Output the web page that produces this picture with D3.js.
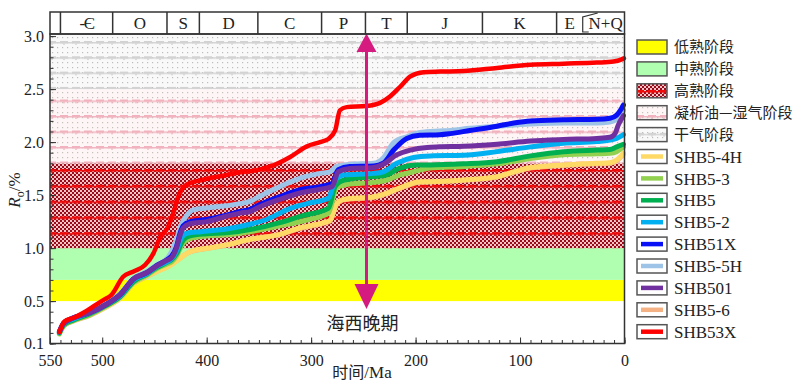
<!DOCTYPE html>
<html>
<head>
<meta charset="utf-8">
<script src="https://cdn.jsdelivr.net/npm/d3@7"></script>
<style>
  body { margin: 0; background: #fff; }
  text { fill: #222; }
</style>
</head>
<body>
<svg id="chart" width="802" height="384"></svg>
<script>
// Geological time strip (Ma)
const periodLabels = ["", "-Є", "O", "S", "D", "C", "P", "T", "J", "K", "E", "N+Q"];
const periodOld   = [550, 540, 490, 438, 407, 351, 290, 248, 208, 136, 65, 40];
const periodYoung = [540, 490, 438, 407, 351, 290, 248, 208, 136, 65, 40, 0];

// Maturity stages (Ro, %)
const stageNames = ["低熟阶段", "中熟阶段", "高熟阶段", "凝析油—湿气阶段", "干气阶段"];
const stageLow   = [0.5, 0.7, 1.0, 1.8, 2.5];
const stageHigh  = [0.7, 1.0, 1.8, 2.5, 3.03];

// Axis ticks
const xLabelTicks = [550, 500, 400, 300, 200, 100, 0];
const yLabelTicks = [0.1, 0.5, 1.0, 1.5, 2.0, 2.5, 3.0];

// Thermal evolution of each well: [age Ma, Ro %]
const shb5_4h = [[541,0.21],[537,0.275],[528,0.315],[512,0.37],[496,0.447],[483,0.526],[470,0.668],[457,0.737],[448,0.778],[438,0.82],[432,0.856],[425.5,0.903],[419,0.951],[413,0.976],[400,0.998],[381,1.03],[358.5,1.083],[330,1.13],[311,1.19],[288,1.24],[282,1.26],[275.5,1.42],[269,1.46],[240,1.485],[228,1.517],[212,1.58],[196,1.627],[186,1.627],[154,1.642],[122,1.674],[106,1.72],[90,1.76],[58.5,1.784],[26.5,1.80],[14,1.806],[7.5,1.831],[1,1.894]];
const shb5_3 = [[541,0.19],[537,0.265],[528,0.315],[512,0.37],[496,0.455],[483,0.535],[470,0.675],[457,0.745],[448,0.805],[438,0.85],[433.5,0.87],[429,0.925],[422.5,1.045],[416,1.09],[400,1.115],[381,1.125],[358.5,1.155],[330,1.21],[304,1.265],[283.5,1.33],[275.5,1.57],[266,1.60],[240,1.62],[228,1.64],[215,1.69],[202,1.72],[186,1.755],[154,1.77],[122,1.795],[90,1.845],[58.5,1.88],[26.5,1.89],[14,1.895],[7.5,1.91],[1,1.955]];
const shb5 = [[541,0.20],[537,0.275],[528,0.32],[512,0.38],[496,0.46],[483,0.54],[470,0.685],[457,0.755],[448,0.815],[438,0.865],[433.5,0.89],[429,0.945],[422.5,1.075],[416,1.115],[400,1.135],[381,1.145],[358.5,1.175],[330,1.24],[310.5,1.30],[283.5,1.375],[277,1.58],[269,1.64],[240,1.675],[228,1.69],[215,1.755],[199,1.785],[186,1.785],[154,1.795],[122,1.815],[90,1.87],[58.5,1.91],[26.5,1.925],[14,1.93],[7.5,1.955],[1,1.98]];
const shb5_2 = [[541,0.21],[537,0.29],[528,0.33],[512,0.39],[496,0.47],[483,0.55],[470,0.70],[457,0.76],[448,0.825],[438,0.87],[433.5,0.90],[429,0.97],[424,1.10],[419,1.14],[406,1.155],[381,1.18],[358.5,1.225],[344,1.265],[320,1.375],[304,1.42],[283.5,1.47],[277,1.64],[269,1.69],[240,1.705],[231,1.72],[218,1.80],[202,1.855],[186,1.87],[154,1.875],[122,1.91],[90,1.955],[58.5,1.99],[26.5,2.005],[14,2.02],[7.5,2.035],[1,2.07]];
const shb51x = [[541,0.21],[537,0.29],[528,0.34],[512,0.39],[496,0.47],[483,0.56],[470,0.71],[457,0.77],[448,0.835],[438,0.89],[433.5,0.925],[429,1.01],[425.5,1.14],[422.5,1.21],[416,1.25],[400,1.27],[381,1.31],[368,1.345],[358.5,1.365],[349,1.41],[330,1.485],[310.5,1.55],[291.5,1.58],[280,1.61],[274,1.74],[263,1.77],[240,1.775],[231,1.80],[221,1.925],[208.5,2.035],[196,2.065],[177,2.07],[167,2.08],[148,2.11],[122,2.15],[106,2.18],[90,2.20],[58.5,2.21],[26.5,2.215],[14,2.225],[7.5,2.255],[2.7,2.32],[1,2.35]];
const shb5_5h = [[541,0.21],[537,0.29],[528,0.34],[512,0.39],[496,0.47],[483,0.57],[470,0.715],[457,0.78],[448,0.84],[438,0.90],[433.5,0.97],[429,1.08],[424,1.23],[419,1.31],[413,1.36],[394,1.385],[368,1.42],[358.5,1.44],[349,1.49],[330,1.58],[310.5,1.66],[291.5,1.705],[282,1.72],[275.5,1.77],[263,1.79],[240,1.80],[231,1.85],[221,1.995],[208.5,2.05],[196,2.09],[177,2.105],[167,2.11],[148,2.13],[122,2.15],[90,2.17],[58.5,2.18],[26.5,2.18],[14,2.19],[7.5,2.215],[2.7,2.27],[1,2.30]];
const shb501 = [[541,0.21],[537,0.29],[528,0.34],[512,0.39],[496,0.47],[483,0.56],[470,0.71],[457,0.77],[448,0.83],[438,0.885],[433.5,0.91],[429,1.0],[425.5,1.12],[422.5,1.19],[416,1.23],[400,1.25],[381,1.30],[368,1.33],[358.5,1.345],[349,1.39],[330,1.46],[310.5,1.52],[291.5,1.555],[280,1.58],[274,1.72],[263,1.75],[240,1.76],[231,1.79],[218,1.88],[205,1.925],[189,1.95],[177,1.955],[154,1.96],[122,1.98],[90,2.01],[58.5,2.025],[26.5,2.035],[14,2.045],[9,2.08],[6,2.16],[1,2.25]];
const shb5_6 = [[541,0.20],[537,0.27],[528,0.31],[512,0.365],[496,0.445],[483,0.525],[470,0.665],[457,0.735],[448,0.78],[438,0.825],[432,0.86],[425.5,0.905],[419,0.95],[413,0.975],[400,0.995],[381,1.03],[358.5,1.08],[330,1.13],[311,1.185],[288,1.235],[282,1.255],[275.5,1.415],[269,1.455],[240,1.48],[228,1.515],[212,1.575],[196,1.62],[186,1.625],[154,1.64],[122,1.67],[106,1.715],[90,1.755],[58.5,1.78],[26.5,1.795],[14,1.80],[7.5,1.825],[1,1.89]];
const shb53x = [[541,0.21],[536,0.31],[528,0.34],[518,0.39],[508.5,0.45],[499,0.51],[491,0.56],[480,0.73],[470,0.78],[459,0.84],[451,0.95],[445,1.09],[437,1.20],[432,1.33],[427,1.49],[419,1.60],[406,1.64],[381,1.69],[368,1.715],[358,1.725],[339,1.77],[320,1.86],[304,1.96],[291.5,2.00],[283.5,2.03],[277,2.11],[272.5,2.30],[266,2.33],[247,2.34],[234,2.37],[224.5,2.43],[215,2.52],[205,2.62],[192.5,2.66],[176.5,2.665],[154,2.67],[122,2.70],[90,2.73],[58.5,2.74],[26.5,2.75],[10.5,2.76],[2.7,2.78],[0.5,2.79]];

const wellNames  = ["SHB5-4H", "SHB5-3", "SHB5", "SHB5-2", "SHB51X", "SHB5-5H", "SHB501", "SHB5-6", "SHB53X"];
const wellValues = [shb5_4h, shb5_3, shb5, shb5_2, shb51x, shb5_5h, shb501, shb5_6, shb53x];
const wellColors = ["#ffd966", "#92d050", "#00b050", "#00b0f0", "#0a10f5", "#9dc3e6", "#7030a0", "#f4b183", "#ff0000"];
const drawOrder  = ["SHB5-6", "SHB5-4H", "SHB5-3", "SHB5", "SHB5-2", "SHB5-5H", "SHB51X", "SHB501", "SHB53X"];

// Late Hercynian event
const eventAge = 247;
const eventLabel = "海西晚期";

const svg = d3.select("#chart");
const serif = "'Liberation Serif', 'Times New Roman', 'Noto Sans CJK SC', serif";
const cjk = "'Noto Sans CJK SC', 'Liberation Serif', sans-serif";

const plotL = 50, plotR = 624.5, plotB = 343.5, plotT = 34, stripT = 12;
const x = d3.scaleLinear().domain([550, 0]).range([plotL, plotR]);
const y = d3.scaleLinear().domain([0.1, 3.0]).range([plotB, 36.1]);

// ---------- fill patterns ----------
const defs = svg.append("defs");
function dotPattern(id, bg, dot) {
  const p = defs.append("pattern").attr("id", id).attr("patternUnits", "userSpaceOnUse")
    .attr("width", 5).attr("height", 5);
  p.append("rect").attr("width", 5).attr("height", 5).attr("fill", bg);
  p.append("rect").attr("x", 2).attr("y", 2).attr("width", 1.2).attr("height", 1.2).attr("fill", dot);
}
function stripePattern(id, color, y0, h) {
  const p = defs.append("pattern").attr("id", id).attr("patternUnits", "userSpaceOnUse")
    .attr("x", 0).attr("y", y0).attr("width", 12).attr("height", h);
  p.append("rect").attr("x", 0).attr("y", 0).attr("width", 8).attr("height", 2.6).attr("fill", color);
  p.append("rect").attr("x", 8).attr("y", 1).attr("width", 4).attr("height", 1.4).attr("fill", color);
  p.append("rect").attr("x", 3).attr("y", 2.6).attr("width", 2).attr("height", 1).attr("fill", color);
}
dotPattern("dryDots", "#f9f9f9", "#bdbdbd");
dotPattern("wetDots", "#fdf5f6", "#c2c2b8");
stripePattern("dryStripe", "#d2d2d2", 41, 15.3);
stripePattern("wetStripe", "#f1b2be", 99.5, 15.5);
stripePattern("highStripe", "#f00a0a", 169, 15.8);
{
  const p = defs.append("pattern").attr("id", "checker").attr("patternUnits", "userSpaceOnUse")
    .attr("width", 4).attr("height", 4);
  p.append("rect").attr("width", 4).attr("height", 4).attr("fill", "#efc4c6");
  p.append("rect").attr("width", 2).attr("height", 2).attr("fill", "#9c0a1a");
  p.append("rect").attr("x", 2).attr("y", 2).attr("width", 2).attr("height", 2).attr("fill", "#9c0a1a");
}
const stageFills = [
  ["#ffff00"],
  ["#b0ffb0"],
  ["url(#checker)", "url(#highStripe)"],
  ["url(#wetDots)", "url(#wetStripe)"],
  ["url(#dryDots)", "url(#dryStripe)"]
];

// ---------- stage bands ----------
const bands = svg.append("g");
stageNames.forEach((name, i) => {
  const y1 = Math.max(y(stageHigh[i]), plotT), y0 = y(stageLow[i]);
  stageFills[i].forEach(f => {
    bands.append("rect").attr("x", plotL).attr("y", y1)
      .attr("width", plotR - plotL).attr("height", y0 - y1).attr("fill", f);
  });
});

// ---------- axes ----------
const axisColor = "#333";
function styleAxis(g) {
  g.select(".domain").remove();
  g.selectAll("line").attr("stroke", axisColor).attr("stroke-width", 1);
  g.selectAll("text").attr("font-family", serif).attr("font-size", 16).attr("fill", "#222");
}
svg.append("g").attr("transform", `translate(0,${plotB})`)
  .call(d3.axisBottom(x).tickValues(d3.range(0, 551, 10)).tickSize(-3.5).tickFormat(""))
  .call(styleAxis);
svg.append("g").attr("transform", `translate(0,${plotB})`)
  .call(d3.axisBottom(x).tickValues(xLabelTicks).tickSize(-6).tickPadding(11).tickFormat(d3.format("d")))
  .call(styleAxis);
svg.append("g").attr("transform", `translate(${plotL},0)`)
  .call(d3.axisLeft(y).tickValues(d3.range(1, 31).map(v => v / 10)).tickSize(-3.5).tickFormat(""))
  .call(styleAxis);
svg.append("g").attr("transform", `translate(${plotL},0)`)
  .call(d3.axisLeft(y).tickValues(yLabelTicks).tickSize(-6).tickPadding(6).tickFormat(d3.format(".1f")))
  .call(styleAxis);

// axis titles
svg.append("text").attr("x", 362).attr("y", 378).attr("text-anchor", "middle")
  .attr("font-family", cjk).attr("font-size", 16)
  .html("时间<tspan font-family=\"'Liberation Serif', serif\" font-size=\"17\">/Ma</tspan>");
const yt = svg.append("text").attr("transform", "translate(20,190) rotate(-90)")
  .attr("text-anchor", "middle").attr("font-family", serif).attr("font-size", 17);
yt.append("tspan").attr("font-style", "italic").text("R");
yt.append("tspan").attr("font-size", 12).attr("dy", 4).text("o");
yt.append("tspan").attr("dy", -4).text("/%");

// ---------- well curves ----------
const line = d3.line().x(d => x(d[0])).y(d => y(d[1])).curve(d3.curveMonotoneX);
const curves = svg.append("g").attr("fill", "none").attr("stroke-linejoin", "round").attr("stroke-linecap", "round");
drawOrder.forEach(n => {
  const i = wellNames.indexOf(n);
  curves.append("path").datum(wellValues[i]).attr("d", line)
    .attr("stroke", wellColors[i]).attr("stroke-width", n === "SHB53X" ? 4.5 : 5);
});

// ---------- event arrow ----------
const ax = x(eventAge), arrowColor = "#d61b80";
svg.append("line").attr("x1", ax).attr("x2", ax).attr("y1", 50).attr("y2", 288)
  .attr("stroke", arrowColor).attr("stroke-width", 3);
svg.append("path").attr("d", `M${ax},33.5 L${ax - 10},52 L${ax + 10},52 Z`).attr("fill", arrowColor);
svg.append("path").attr("d", `M${ax},309 L${ax - 12},284 L${ax + 12},284 Z`).attr("fill", arrowColor);
svg.append("text").attr("x", ax - 4).attr("y", 329.5).attr("text-anchor", "middle")
  .attr("font-family", cjk).attr("font-size", 18).attr("fill", "#333").text(eventLabel);

// ---------- frame and time strip ----------
svg.append("rect").attr("x", plotL).attr("y", plotT).attr("width", plotR - plotL).attr("height", plotB - plotT)
  .attr("fill", "none").attr("stroke", axisColor).attr("stroke-width", 1.5);
svg.append("rect").attr("x", plotL).attr("y", stripT).attr("width", plotR - plotL).attr("height", plotT - stripT)
  .attr("fill", "none").attr("stroke", axisColor).attr("stroke-width", 1.5);
const strip = svg.append("g");
periodLabels.forEach((lab, i) => {
  if (i > 0) {
    const bx = x(periodOld[i]);
    if (lab === "N+Q") {
      strip.append("path").attr("d", `M${bx + 15},${stripT + 1} L${bx},${stripT + 5} L${bx},${plotT - 2} L${bx + 6},${plotT - 2}`)
        .attr("fill", "none").attr("stroke", axisColor).attr("stroke-width", 1.2);
    } else {
      strip.append("line").attr("x1", bx).attr("x2", bx).attr("y1", stripT).attr("y2", plotT)
        .attr("stroke", axisColor).attr("stroke-width", 1.5);
    }
  }
  if (lab) {
    const cx = (x(periodOld[i]) + x(periodYoung[i])) / 2 + (lab === "N+Q" ? 2 : 0);
    strip.append("text").attr("x", cx).attr("y", 29).attr("text-anchor", "middle")
      .attr("font-family", serif).attr("font-size", 17)
      .attr("letter-spacing", lab === "-Є" ? -1.5 : 0).text(lab);
  }
});

// ---------- legend ----------
const legend = svg.append("g");
const legendItems = stageNames.map((n, i) => ({ name: n, type: "band", idx: i }))
  .concat(wellNames.map((n, i) => ({ name: n, type: "well", idx: i })));
legendItems.forEach((it, k) => {
  const cy = 47 + k * 21.9;
  if (it.type === "band") {
    stageFills[it.idx].forEach(f => {
      legend.append("rect").attr("x", 637).attr("y", cy - 7).attr("width", 30).attr("height", 14).attr("fill", f);
    });
  } else {
    legend.append("rect").attr("x", 637).attr("y", cy - 7).attr("width", 30).attr("height", 14).attr("fill", "#fff");
    legend.append("line").attr("x1", 641).attr("x2", 663).attr("y1", cy).attr("y2", cy)
      .attr("stroke", wellColors[it.idx]).attr("stroke-width", 4.5);
  }
  legend.append("rect").attr("x", 637).attr("y", cy - 7).attr("width", 30).attr("height", 14)
    .attr("fill", "none").attr("stroke", "#555").attr("stroke-width", 1.5);
  legend.append("text").attr("x", 674).attr("y", cy).attr("dy", "0.36em")
    .attr("font-family", it.type === "band" ? cjk : serif).attr("font-size", it.type === "band" ? 15 : 17)
    .text(it.name);
});
</script>
</body>
</html>
